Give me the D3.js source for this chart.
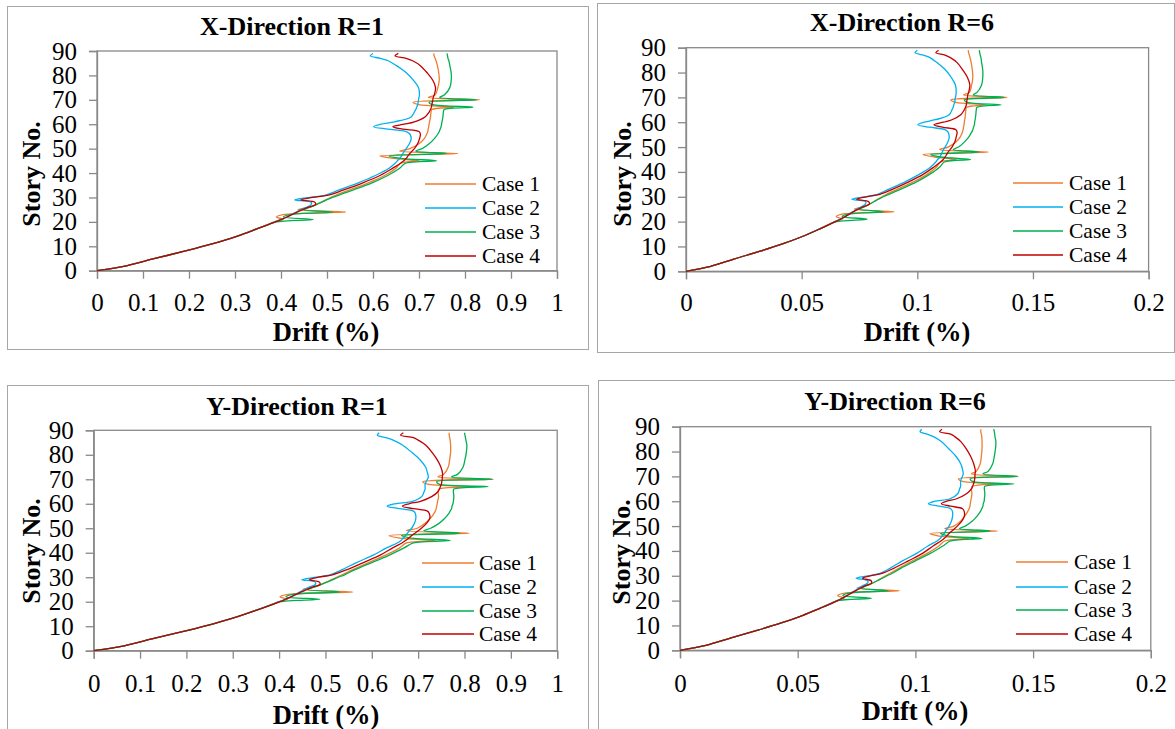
<!DOCTYPE html>
<html><head><meta charset="utf-8">
<script src="https://cdn.jsdelivr.net/npm/d3@7"></script>
<style>
body{margin:0;background:#fff}
svg{display:block}
</style>
</head><body>
<svg id="chart" width="1175" height="729"></svg>
<script>
// ---------------- DATA ----------------
const stories = [0,2,5,8,11,14,17,19,20,21,22,23,24,25,26,27,28,29,30,31,33,36,39,42,44,45,46,47,48,49,50,52,54,56,57,58,59,60,61,63,65,66,67,68,69,70,71,72,75,78,81,84,86,87,88,89];

const caseNames = ["Case 1","Case 2","Case 3","Case 4"];
const caseColors = ["#ED7D31","#00B0F0","#00B050","#C00000"];
const panelTitles = ["X-Direction R=1","X-Direction R=6","Y-Direction R=1","Y-Direction R=6"];
const yTickValues = [0,10,20,30,40,50,60,70,80,90];
const xTicksR1 = [0,0.1,0.2,0.3,0.4,0.5,0.6,0.7,0.8,0.9,1];
const xTicksR6 = [0,0.05,0.1,0.15,0.2];

// X-Direction R=1 drift (%)
const xR1Case1 = [0,0.064,0.126,0.19,0.25,0.302,0.345,0.372,0.385,0.405,0.39,0.405,0.54,0.437,0.462,0.476,0.487,0.497,0.508,0.52,0.548,0.59,0.625,0.65,0.66,0.70,0.645,0.615,0.785,0.658,0.68,0.70,0.711,0.717,0.719,0.72,0.721,0.722,0.723,0.725,0.726,0.728,0.775,0.70,0.687,0.832,0.72,0.735,0.741,0.744,0.743,0.74,0.737,0.735,0.733,0.732];
const xR1Case2 = [0,0.064,0.126,0.19,0.25,0.302,0.345,0.373,0.386,0.40,0.412,0.422,0.433,0.443,0.455,0.465,0.466,0.43,0.463,0.497,0.525,0.568,0.605,0.635,0.648,0.653,0.658,0.662,0.665,0.668,0.672,0.679,0.683,0.68,0.672,0.632,0.601,0.617,0.647,0.683,0.69,0.693,0.695,0.697,0.698,0.699,0.70,0.701,0.699,0.688,0.673,0.651,0.633,0.616,0.594,0.60];
const xR1Case3 = [0,0.064,0.126,0.19,0.25,0.302,0.346,0.374,0.39,0.47,0.405,0.42,0.513,0.45,0.463,0.475,0.487,0.499,0.512,0.526,0.556,0.598,0.632,0.658,0.67,0.738,0.66,0.635,0.76,0.693,0.707,0.722,0.733,0.741,0.744,0.746,0.748,0.749,0.75,0.752,0.753,0.755,0.817,0.73,0.722,0.825,0.745,0.755,0.767,0.77,0.77,0.767,0.765,0.763,0.762,0.761];
const xR1Case4 = [0,0.064,0.126,0.19,0.25,0.302,0.346,0.374,0.388,0.401,0.413,0.424,0.435,0.447,0.46,0.475,0.474,0.443,0.468,0.503,0.535,0.578,0.615,0.643,0.66,0.667,0.672,0.676,0.68,0.685,0.69,0.697,0.701,0.703,0.70,0.665,0.643,0.668,0.69,0.713,0.722,0.725,0.727,0.728,0.729,0.73,0.731,0.733,0.736,0.73,0.718,0.703,0.686,0.672,0.648,0.655];

// X-Direction R=6 drift (%)
const xR6Case1 = [0,0.0107,0.021,0.0317,0.0417,0.0503,0.0575,0.062,0.0642,0.0675,0.065,0.0675,0.09,0.0728,0.077,0.0793,0.0812,0.0828,0.0847,0.0867,0.0913,0.0983,0.1042,0.1083,0.11,0.1167,0.1075,0.1025,0.1308,0.1097,0.1133,0.1167,0.1185,0.1195,0.1198,0.12,0.1202,0.1203,0.1205,0.1208,0.121,0.1213,0.1292,0.1167,0.1145,0.1387,0.12,0.1225,0.1235,0.124,0.1238,0.1233,0.1228,0.1225,0.1222,0.122];
const xR6Case2 = [0,0.0107,0.021,0.0317,0.0417,0.0503,0.0575,0.0622,0.0643,0.0667,0.0687,0.0703,0.0722,0.0738,0.0758,0.0775,0.0777,0.0717,0.0772,0.0828,0.0875,0.0947,0.1008,0.1058,0.108,0.1088,0.1097,0.1103,0.1108,0.1113,0.112,0.1132,0.1138,0.1133,0.112,0.1053,0.1002,0.1028,0.1078,0.1138,0.115,0.1155,0.1158,0.1162,0.1163,0.1165,0.1167,0.1168,0.1165,0.1147,0.1122,0.1085,0.1055,0.1027,0.099,0.1];
const xR6Case3 = [0,0.0107,0.021,0.0317,0.0417,0.0503,0.0577,0.0623,0.065,0.0783,0.0675,0.07,0.0855,0.075,0.0772,0.0792,0.0812,0.0832,0.0853,0.0877,0.0927,0.0997,0.1053,0.1097,0.1117,0.123,0.11,0.1058,0.1267,0.1155,0.1178,0.1203,0.1222,0.1235,0.124,0.1243,0.1247,0.1248,0.125,0.1253,0.1255,0.1258,0.1362,0.1217,0.1203,0.1375,0.1242,0.1258,0.1278,0.1283,0.1283,0.1278,0.1275,0.1272,0.127,0.1268];
const xR6Case4 = [0,0.0107,0.021,0.0317,0.0417,0.0503,0.0577,0.0623,0.0647,0.0668,0.0688,0.0707,0.0725,0.0745,0.0767,0.0792,0.079,0.0738,0.078,0.0838,0.0892,0.0963,0.1025,0.1072,0.11,0.1112,0.112,0.1127,0.1133,0.1142,0.115,0.1162,0.1168,0.1172,0.1167,0.1108,0.1072,0.1113,0.115,0.1188,0.1203,0.1208,0.1212,0.1213,0.1215,0.1217,0.1218,0.1222,0.1227,0.1217,0.1197,0.1172,0.1143,0.112,0.108,0.1092];

// Y-Direction R=1 drift (%)
const yR1Case1 = [0,0.066,0.13,0.196,0.258,0.312,0.357,0.386,0.40,0.418,0.402,0.42,0.559,0.451,0.476,0.49,0.502,0.513,0.524,0.536,0.558,0.593,0.63,0.66,0.675,0.736,0.66,0.637,0.81,0.675,0.698,0.715,0.726,0.734,0.737,0.739,0.74,0.741,0.742,0.744,0.743,0.745,0.812,0.72,0.71,0.862,0.743,0.755,0.765,0.768,0.77,0.77,0.769,0.768,0.767,0.767];
const yR1Case2 = [0,0.066,0.13,0.196,0.258,0.312,0.357,0.386,0.40,0.413,0.425,0.435,0.445,0.455,0.465,0.478,0.478,0.449,0.48,0.51,0.535,0.567,0.603,0.632,0.655,0.663,0.668,0.673,0.677,0.681,0.686,0.692,0.695,0.694,0.69,0.66,0.633,0.65,0.688,0.708,0.713,0.715,0.715,0.715,0.717,0.72,0.722,0.721,0.716,0.704,0.686,0.666,0.646,0.63,0.612,0.616];
const yR1Case3 = [0,0.066,0.13,0.196,0.258,0.312,0.358,0.388,0.402,0.488,0.415,0.43,0.531,0.462,0.476,0.49,0.503,0.516,0.528,0.541,0.563,0.60,0.638,0.67,0.69,0.769,0.685,0.664,0.79,0.712,0.727,0.745,0.757,0.766,0.769,0.772,0.773,0.775,0.776,0.777,0.776,0.777,0.851,0.745,0.74,0.86,0.772,0.785,0.797,0.801,0.804,0.805,0.803,0.802,0.801,0.80];
const yR1Case4 = [0,0.066,0.13,0.196,0.258,0.312,0.358,0.388,0.402,0.414,0.426,0.437,0.448,0.46,0.472,0.488,0.487,0.465,0.485,0.515,0.545,0.582,0.618,0.645,0.665,0.673,0.68,0.686,0.693,0.70,0.707,0.718,0.725,0.724,0.72,0.69,0.666,0.68,0.705,0.73,0.743,0.746,0.748,0.75,0.751,0.752,0.752,0.753,0.749,0.741,0.73,0.716,0.70,0.69,0.662,0.668];

// Y-Direction R=6 drift (%)
const yR6Case1 = [0,0.011,0.0217,0.0327,0.043,0.052,0.0595,0.0643,0.0667,0.0697,0.067,0.07,0.0932,0.0752,0.0793,0.0817,0.0837,0.0855,0.0873,0.0893,0.093,0.0988,0.105,0.11,0.1125,0.1227,0.11,0.1062,0.135,0.1125,0.1163,0.1192,0.121,0.1223,0.1228,0.1232,0.1233,0.1235,0.1237,0.124,0.1238,0.1242,0.1353,0.12,0.1183,0.1437,0.1238,0.1258,0.1275,0.128,0.1283,0.1283,0.1282,0.128,0.1278,0.1278];
const yR6Case2 = [0,0.011,0.0217,0.0327,0.043,0.052,0.0595,0.0643,0.0667,0.0688,0.0708,0.0725,0.0742,0.0758,0.0775,0.0797,0.0797,0.0748,0.08,0.085,0.0892,0.0945,0.1005,0.1053,0.1092,0.1105,0.1113,0.1122,0.1128,0.1135,0.1143,0.1153,0.1158,0.1157,0.115,0.11,0.1055,0.1083,0.1147,0.118,0.1188,0.1192,0.1192,0.1192,0.1195,0.12,0.1203,0.1202,0.1193,0.1173,0.1143,0.111,0.1077,0.105,0.102,0.1027];
const yR6Case3 = [0,0.011,0.0217,0.0327,0.043,0.052,0.0597,0.0647,0.067,0.0813,0.0692,0.0717,0.0885,0.077,0.0793,0.0817,0.0838,0.086,0.088,0.0902,0.0938,0.1,0.1063,0.1117,0.115,0.1282,0.1142,0.1107,0.1317,0.1187,0.1212,0.1242,0.1262,0.1277,0.1282,0.1287,0.1288,0.1292,0.1293,0.1295,0.1293,0.1295,0.1418,0.1242,0.1233,0.1433,0.1287,0.1308,0.1328,0.1335,0.134,0.1342,0.1338,0.1337,0.1335,0.1333];
const yR6Case4 = [0,0.011,0.0217,0.0327,0.043,0.052,0.0597,0.0647,0.067,0.069,0.071,0.0728,0.0747,0.0767,0.0787,0.0813,0.0812,0.0775,0.0808,0.0858,0.0908,0.097,0.103,0.1075,0.1108,0.1122,0.1133,0.1143,0.1155,0.1167,0.1178,0.1197,0.1208,0.1207,0.12,0.115,0.111,0.1133,0.1175,0.1217,0.1238,0.1243,0.1247,0.125,0.1252,0.1253,0.1253,0.1255,0.1248,0.1235,0.1217,0.1193,0.1167,0.115,0.1103,0.1113];

// ---------------- LAYOUT ----------------
const FONT = "'Liberation Serif', 'DejaVu Serif', serif";
const panels = [
  {title:panelTitles[0], series:[xR1Case1,xR1Case2,xR1Case3,xR1Case4], xMax:1, xTicks:xTicksR1,
   frame:[7,6,581,343], plot:[97,51,557,270.7], titleXY:[292,35], xLabY:293, xTitleXY:[326,341], yTitleXY:[31,174],
   leg:[425,476,482], legY:[184,208,232,256]},
  {title:panelTitles[1], series:[xR6Case1,xR6Case2,xR6Case3,xR6Case4], xMax:0.2, xTicks:xTicksR6,
   frame:[597,3,577,349], plot:[686,47.7,1148.6,271.3], titleXY:[902,31], xLabY:293, xTitleXY:[917,341], yTitleXY:[622,174],
   leg:[1013,1063,1069], legY:[183,207,231,255]},
  {title:panelTitles[2], series:[yR1Case1,yR1Case2,yR1Case3,yR1Case4], xMax:1, xTicks:xTicksR1,
   frame:[7,385,581,360], plot:[93.7,430.3,557.2,650.7], titleXY:[297,415], xLabY:674, xTitleXY:[326,724], yTitleXY:[31,551],
   leg:[422,474,479], legY:[563,587,611,634]},
  {title:panelTitles[3], series:[yR6Case1,yR6Case2,yR6Case3,yR6Case4], xMax:0.2, xTicks:xTicksR6,
   frame:[598,380,590,360], plot:[680,426.7,1150.8,650.3], titleXY:[895,410], xLabY:674, xTitleXY:[915,720], yTitleXY:[621,552],
   leg:[1016,1068,1074], legY:[562,587,610,634]}
];

const svg = d3.select("#chart");
svg.append("rect").attr("width",1175).attr("height",729).attr("fill","#fff");
const fmt = v => String(+v.toFixed(2));

panels.forEach(p => {
  const g = svg.append("g");
  const [fx,fy,fw,fh] = p.frame;
  g.append("rect").attr("x",fx+0.5).attr("y",fy+0.5).attr("width",fw).attr("height",fh)
    .attr("fill","#fff").attr("stroke","#a6a6a6").attr("stroke-width",1);

  const [l,t,r,b] = p.plot;
  const x = d3.scaleLinear().domain([0,p.xMax]).range([l,r]);
  const y = d3.scaleLinear().domain([0,90]).range([b,t]);

  g.append("rect").attr("x",l).attr("y",t).attr("width",r-l).attr("height",b-t)
    .attr("fill","none").attr("stroke","#898989").attr("stroke-width",1.3);

  const xAxis = g.append("g").attr("transform",`translate(0,${b})`)
    .call(d3.axisBottom(x).tickValues(p.xTicks).tickSize(8).tickPadding(p.xLabY-b-8).tickFormat(fmt));
  const yAxis = g.append("g").attr("transform",`translate(${l},0)`)
    .call(d3.axisLeft(y).tickValues(yTickValues).tickSize(8).tickPadding(12).tickFormat(d3.format("d")));
  [xAxis,yAxis].forEach(a => {
    a.attr("font-family",null).style("font-family",FONT);
    a.select(".domain").attr("stroke","#898989").attr("stroke-width",1.3);
    a.selectAll(".tick line").attr("stroke","#898989").attr("stroke-width",1.3);
    a.selectAll(".tick text").style("font-family",FONT).attr("font-size",25).attr("fill","#000");
  });

  const line = d3.line().x(d=>x(d[0])).y(d=>y(d[1])).curve(d3.curveCatmullRom.alpha(0.5));
  p.series.forEach((vals,i) => {
    const pts = vals.map((v,k)=>[v,stories[k]]);
    g.append("path").attr("d",line(pts)).attr("fill","none")
      .attr("stroke",caseColors[i]).attr("stroke-width",1.3).attr("stroke-linejoin","round");
  });

  caseNames.forEach((n,i) => {
    g.append("line").attr("x1",p.leg[0]).attr("x2",p.leg[1]).attr("y1",p.legY[i]).attr("y2",p.legY[i])
      .attr("stroke",caseColors[i]).attr("stroke-width",1.5);
    g.append("text").attr("x",p.leg[2]).attr("y",p.legY[i]).attr("dy","0.33em")
      .style("font-family",FONT).attr("font-size",21.5).text(n);
  });

  g.append("text").attr("x",p.titleXY[0]).attr("y",p.titleXY[1]).attr("text-anchor","middle")
    .style("font-family",FONT).attr("font-weight","bold").attr("font-size",26).text(p.title);
  g.append("text").attr("x",p.xTitleXY[0]).attr("y",p.xTitleXY[1]).attr("text-anchor","middle")
    .style("font-family",FONT).attr("font-weight","bold").attr("font-size",26.5).text("Drift (%)");
  g.append("text").attr("transform",`translate(${p.yTitleXY[0]},${p.yTitleXY[1]}) rotate(-90)`)
    .attr("text-anchor","middle").attr("dy","0.35em")
    .style("font-family",FONT).attr("font-weight","bold").attr("font-size",26).text("Story No.");
});
</script>
</body></html>
